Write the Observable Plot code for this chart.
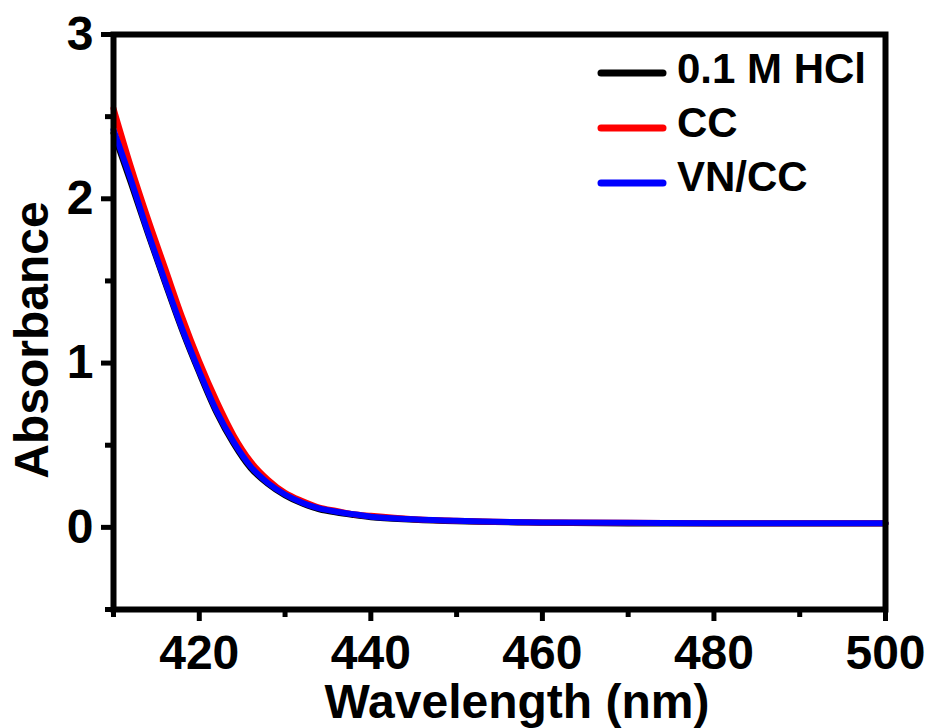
<!DOCTYPE html>
<html>
<head>
<meta charset="utf-8">
<script src="https://cdn.jsdelivr.net/npm/d3@7"></script>
<script src="https://cdn.jsdelivr.net/npm/@observablehq/plot@0.6"></script>
<style>
  html, body { margin: 0; padding: 0; background: #fff; }
  #chart { width: 929px; height: 728px; }
</style>
</head>
<body>
<div id="chart"></div>
<script>
// Wavelength (nm)
const wavelength = [410, 412, 414, 416, 418, 420, 422, 424, 426, 428, 430, 432, 434, 436, 438, 440, 445, 450, 460, 470, 480, 490, 500];
// Absorbance series
const hcl  = [2.40, 2.10, 1.79, 1.49, 1.20, 0.94, 0.70, 0.51, 0.36, 0.265, 0.195, 0.145, 0.11, 0.09, 0.075, 0.062, 0.047, 0.037, 0.028, 0.024, 0.023, 0.023, 0.023];
const cc   = [2.55, 2.20, 1.88, 1.58, 1.28, 1.01, 0.77, 0.56, 0.40, 0.29, 0.21, 0.16, 0.12, 0.10, 0.08, 0.07, 0.05, 0.04, 0.03, 0.028, 0.025, 0.025, 0.025];
const vncc = [2.42, 2.12, 1.80, 1.50, 1.21, 0.95, 0.71, 0.52, 0.37, 0.27, 0.20, 0.15, 0.115, 0.095, 0.08, 0.065, 0.05, 0.04, 0.03, 0.028, 0.025, 0.025, 0.025];

const seriesNames = ["0.1 M HCl", "CC", "VN/CC"];
const seriesColors = ["#000000", "#ff0000", "#0000ff"];
const seriesValues = [hcl, cc, vncc];

const xMajor = [420, 440, 460, 480, 500];
const xMinor = [410, 430, 450, 470, 490];
const yMajor = [0, 1, 2, 3];
const yMinor = [-0.5, 0.5, 1.5, 2.5];

const xDomain = [410, 500];
const yDomain = [-0.5, 3];

const rows = [];
seriesNames.forEach((name, i) => {
  wavelength.forEach((w, j) => rows.push({series: name, wl: w, abs: seriesValues[i][j]}));
});

const font = "'Liberation Sans', Arial, sans-serif";

const chart = Plot.plot({
  width: 929,
  height: 728,
  marginLeft: 113,
  marginRight: 44,
  marginTop: 34,
  marginBottom: 119,
  style: {fontFamily: font, fontWeight: "bold", background: "#fff", color: "#000"},
  x: {domain: xDomain},
  y: {domain: yDomain},
  color: {domain: seriesNames, range: seriesColors},
  marks: [
    Plot.line(rows, {x: "wl", y: "abs", z: "series", stroke: "series", strokeWidth: 6, curve: "monotone-x"}),
    Plot.frame({stroke: "#000", strokeWidth: 6}),
    // tick marks (outward)
    Plot.ruleX(xMajor, {x: d => d, y1: yDomain[0], y2: yDomain[0], insetBottom: -12, stroke: "#000", strokeWidth: 5}),
    Plot.ruleX(xMinor, {x: d => d, y1: yDomain[0], y2: yDomain[0], insetBottom: -8, stroke: "#000", strokeWidth: 5}),
    Plot.ruleY(yMajor, {y: d => d, x1: xDomain[0], x2: xDomain[0], insetLeft: -12, stroke: "#000", strokeWidth: 5}),
    Plot.ruleY(yMinor, {y: d => d, x1: xDomain[0], x2: xDomain[0], insetLeft: -8, stroke: "#000", strokeWidth: 5}),
    // tick labels
    Plot.axisX({ticks: xMajor, tickSize: 0, tickPadding: 25, fontSize: 48, fontWeight: "bold", label: null, tickFormat: d => String(d)}),
    Plot.axisY({ticks: yMajor, tickSize: 0, tickPadding: 20, fontSize: 48, fontWeight: "bold", label: null, tickFormat: d => String(d)})
  ]
});

document.getElementById("chart").appendChild(chart);

const svg = d3.select(chart);

// Axis titles
svg.append("text")
  .attr("x", 517).attr("y", 718)
  .attr("text-anchor", "middle")
  .attr("font-family", font).attr("font-weight", "bold").attr("font-size", 48)
  .attr("fill", "#000")
  .text("Wavelength (nm)");

svg.append("text")
  .attr("transform", "translate(48,340) rotate(-90)")
  .attr("text-anchor", "middle")
  .attr("font-family", font).attr("font-weight", "bold").attr("font-size", 48)
  .attr("fill", "#000")
  .text("Absorbance");

// Legend
const legend = svg.append("g");
const legendLineY = [73, 128, 183];
const legendTextY = [83, 137, 191];
seriesNames.forEach((name, i) => {
  legend.append("line")
    .attr("x1", 601).attr("x2", 663)
    .attr("y1", legendLineY[i]).attr("y2", legendLineY[i])
    .attr("stroke", seriesColors[i]).attr("stroke-width", 7).attr("stroke-linecap", "round");
  legend.append("text")
    .attr("x", 677).attr("y", legendTextY[i])
    .attr("text-anchor", "start")
    .attr("font-family", font).attr("font-weight", "bold").attr("font-size", 42)
    .attr("fill", "#000")
    .text(name);
});
</script>
</body>
</html>
